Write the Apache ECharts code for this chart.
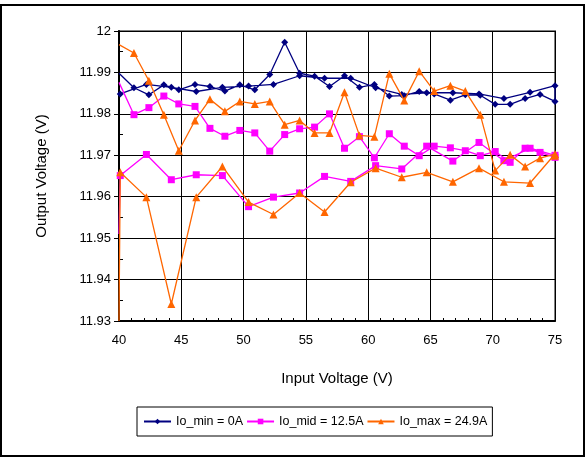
<!DOCTYPE html>
<html>
<head>
<meta charset="utf-8">
<script src="https://cdn.jsdelivr.net/npm/echarts@6/dist/echarts.min.js"></script>
<style>
html,body{margin:0;padding:0;background:#fff;}
#chart{width:587px;height:458px;}
</style>
</head>
<body>
<div id="chart"></div>
<script>
// Input voltage sample points: sweep with fine steps (U) and coarse steps (L)
const xU = [40.0, 41.2, 42.4, 43.6, 44.8, 46.1, 47.3, 48.5, 49.7, 50.9, 52.1, 53.3, 54.5, 55.7, 56.9, 58.1, 59.3, 60.5, 61.7, 62.9, 64.1, 65.3, 66.6, 67.8, 69.0, 70.2, 71.4, 72.6, 73.8, 75.0];
const xL = [40.1, 42.2, 44.2, 46.2, 48.3, 50.4, 52.4, 54.5, 56.5, 58.6, 60.6, 62.7, 64.7, 66.8, 68.9, 70.9, 73.0, 75.0];

// Io_min = 0A
const minU = [11.9898, 11.9863, 11.9846, 11.9870, 11.9858, 11.9871, 11.9866, 11.9855, 11.9870, 11.9858, 11.9895, 11.9973, 11.9898, 11.9891, 11.9866, 11.9892, 11.9864, 11.9871, 11.9843, 11.9844, 11.9854, 11.9848, 11.9833, 11.9846, 11.9845, 11.9823, 11.9823, 11.9837, 11.9847, 11.9830];
const minL = [11.9848, 11.9871, 11.9864, 11.9854, 11.9864, 11.9867, 11.9871, 11.9892, 11.9886, 11.9886, 11.9863, 11.9847, 11.9851, 11.9851, 11.9848, 11.9837, 11.9852, 11.9868];

// Io_mid = 12.5A
const midU = [11.9876, 11.9798, 11.9815, 11.9843, 11.9824, 11.9818, 11.9765, 11.9746, 11.9760, 11.9754, 11.9710, 11.9750, 11.9764, 11.9768, 11.9800, 11.9717, 11.9745, 11.9694, 11.9752, 11.9722, 11.9699, 11.9722, 11.9718, 11.9711, 11.9699, 11.9709, 11.9683, 11.9717, 11.9707, 11.9695];
const midL = [11.9651, 11.9702, 11.9641, 11.9653, 11.9651, 11.9576, 11.9599, 11.9609, 11.9649, 11.9637, 11.9675, 11.9667, 11.9722, 11.9686, 11.9731, 11.9687, 11.9717, 11.9700];
const midStart = [40.0, 11.951];

// Io_max = 24.9A
const maxU = [11.9967, 11.9947, 11.9880, 11.9798, 11.9711, 11.9784, 11.9835, 11.9806, 11.9830, 11.9824, 11.9830, 11.9774, 11.9784, 11.9754, 11.9754, 11.9852, 11.9748, 11.9745, 11.9897, 11.9832, 11.9903, 11.9855, 11.9868, 11.9855, 11.9798, 11.9663, 11.9701, 11.9673, 11.9693, 11.9699];
const maxL = [11.9659, 11.9599, 11.9341, 11.9599, 11.9673, 11.9587, 11.9557, 11.9609, 11.9563, 11.9635, 11.9669, 11.9647, 11.9659, 11.9636, 11.9669, 11.9636, 11.9633, 11.9703];
const maxStart = [40.0, 11.930];

const seriesNames = ['Io_min = 0A', 'Io_mid = 12.5A', 'Io_max = 24.9A'];
const colors = ['#000080', '#FF00FF', '#FF6600'];
const symbols = ['diamond', 'rect', 'triangle'];

function buildLoop(L, U, start) {
  const d = [];
  if (start) d.push({ value: start, symbol: 'none' });
  for (let i = 0; i < xL.length; i++) d.push([xL[i], L[i]]);
  for (let i = xU.length - 1; i >= 0; i--) {
    if (i === 0) d.push({ value: [xU[i], U[i]], symbol: 'none' });
    else d.push([xU[i], U[i]]);
  }
  return d;
}

const loops = [
  buildLoop(minL, minU, null),
  buildLoop(midL, midU, midStart),
  buildLoop(maxL, maxU, maxStart)
];

const FONT = 'Liberation Sans, Arial, sans-serif';
const chart = echarts.init(document.getElementById('chart'), null, { renderer: 'canvas' });

chart.setOption({
  animation: false,
  backgroundColor: '#fff',
  graphic: [{
    type: 'rect', silent: true, z: -10,
    shape: { x: 1, y: 5, width: 583, height: 451 },
    style: { fill: 'none', stroke: '#000', lineWidth: 2 }
  }],
  grid: {
    left: 119, right: 32, top: 31, bottom: 137,
    show: true, borderColor: '#808080', borderWidth: 2, backgroundColor: '#fff'
  },
  legend: {
    data: seriesNames,
    left: 137, top: 407,
    orient: 'horizontal',
    borderColor: '#000', borderWidth: 1,
    padding: [8, 5, 8, 6],
    itemWidth: 27, itemHeight: 7, itemGap: 3,
    textStyle: { fontFamily: FONT, fontSize: 12.5, color: '#000' }
  },
  xAxis: {
    type: 'value', min: 40, max: 75, interval: 5,
    name: 'Input Voltage (V)', nameLocation: 'middle', nameGap: 50,
    nameTextStyle: { fontFamily: FONT, fontSize: 15, color: '#000' },
    axisLine: { show: true, onZero: false, lineStyle: { color: '#000', width: 2 } },
    axisTick: { show: true, inside: true, length: 4, lineStyle: { color: '#000' } },
    minorTick: { show: true, splitNumber: 5, length: 3, lineStyle: { color: '#000' } },
    axisLabel: { fontFamily: FONT, fontSize: 13, color: '#000', margin: 13 },
    splitLine: { show: true, lineStyle: { color: '#000', width: 1 } }
  },
  yAxis: [{
    type: 'value', min: 11.93, max: 12, interval: 0.01, position: 'left',
    name: 'Output Voltage (V)', nameLocation: 'middle', nameGap: 70,
    nameTextStyle: { fontFamily: FONT, fontSize: 15, color: '#000' },
    axisLine: { show: true, onZero: false, lineStyle: { color: '#000', width: 2 } },
    axisTick: { show: true, inside: false, length: 5, lineStyle: { color: '#000' } },
    minorTick: { show: false },
    axisLabel: {
      fontFamily: FONT, fontSize: 13, color: '#000', margin: 8,
      formatter: v => (Math.abs(v - 12) < 1e-9 ? '12' : v.toFixed(2))
    },
    splitLine: { show: true, lineStyle: { color: '#000', width: 1 } }
  }, {
    // overlay axis on the same scale, used only for the inward minor ticks
    type: 'value', min: 11.93, max: 12, interval: 0.01, position: 'left', offset: 0,
    axisLine: { show: false, onZero: false },
    axisTick: { show: false, inside: true },
    minorTick: { show: true, splitNumber: 2, length: 4, lineStyle: { color: '#000' } },
    axisLabel: { show: false },
    splitLine: { show: false }
  }],
  series: loops.map((d, k) => ({
    name: seriesNames[k],
    type: 'line',
    yAxisIndex: 0,
    data: d,
    symbol: symbols[k],
    symbolSize: k === 2 ? 8 : 7,
    showAllSymbol: true,
    clip: true,
    lineStyle: { color: colors[k], width: 1.3 },
    itemStyle: { color: colors[k], borderWidth: 0 },
    z: 2 + k
  }))
});
</script>
</body>
</html>
